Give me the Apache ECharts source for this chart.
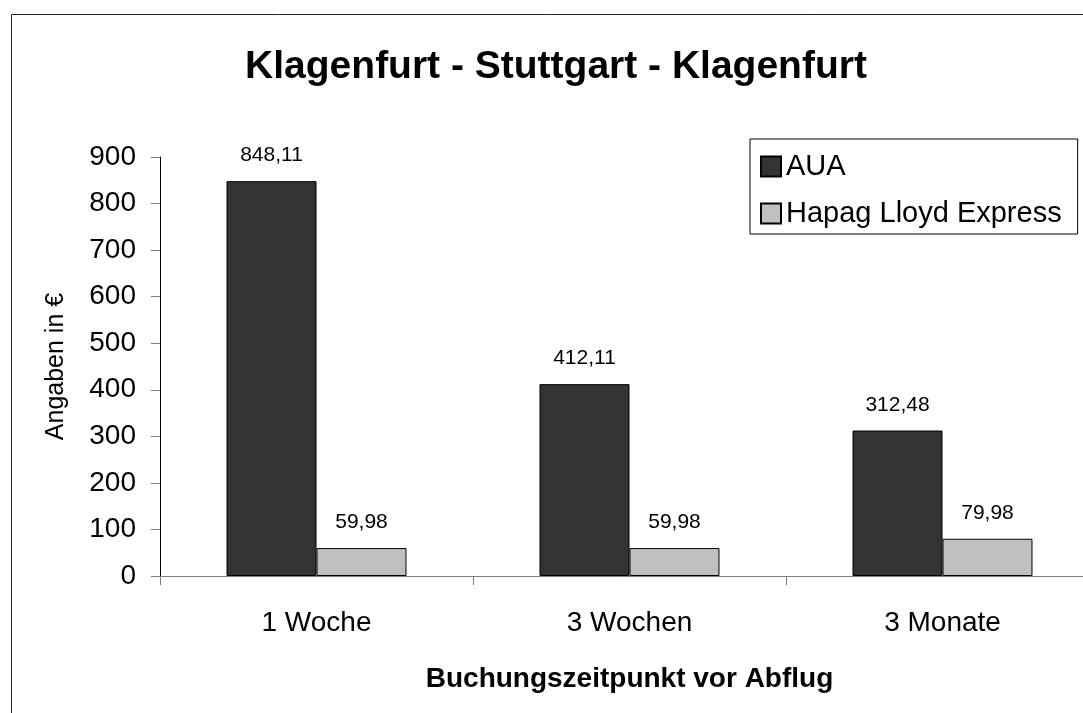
<!DOCTYPE html>
<html>
<head>
<meta charset="utf-8">
<script src="https://cdn.jsdelivr.net/npm/echarts@6/dist/echarts.min.js"></script>
<style>
html,body{margin:0;padding:0;background:#fff;}
#chart{width:1083px;height:713px;}
</style>
</head>
<body>
<div id="chart"></div>
<script>
const categories = ['1 Woche', '3 Wochen', '3 Monate'];
const seriesNames = ['AUA', 'Hapag Lloyd Express'];
const auaValues = [848.11, 412.11, 312.48];
const hapagValues = [59.98, 59.98, 79.98];
const yTicks = [0, 900, 100];

const FONT = '"Liberation Sans", Arial, sans-serif';
const fmt = p => p.value.toFixed(2).replace('.', ',');

const chart = echarts.init(document.getElementById('chart'), null, {renderer: 'canvas'});
chart.setOption({
  backgroundColor: '#fff',
  animation: false,
  title: {
    text: 'Klagenfurt - Stuttgart - Klagenfurt',
    left: 556, top: 48, textAlign: 'center', padding: 0,
    textStyle: {fontFamily: FONT, fontSize: 39, fontWeight: 'bold', color: '#000'}
  },
  graphic: [{
    type: 'rect', shape: {x: 11.5, y: 14.5, width: 1200, height: 800},
    style: {fill: 'none', stroke: '#222', lineWidth: 1}, silent: true
  }],
  legend: {
    orient: 'vertical', left: 750, top: 139,
    backgroundColor: '#fff', borderColor: '#000', borderWidth: 1,
    padding: [13, 16, 6, 10],
    itemWidth: 20, itemHeight: 20, itemGap: 18, icon: 'rect',
    textStyle: {fontFamily: FONT, fontSize: 29, color: '#000', lineHeight: 28},
    data: seriesNames
  },
  grid: {left: 160, top: 157, right: -16, bottom: 137, outerBoundsMode: 'none', containLabel: false},
  xAxis: {
    type: 'category', data: categories,
    name: 'Buchungszeitpunkt vor Abflug', nameLocation: 'middle', nameGap: 89,
    nameTextStyle: {fontFamily: FONT, fontSize: 28, fontWeight: 'bold', color: '#000'},
    axisLine: {lineStyle: {color: '#808080', width: 1}},
    axisTick: {show: true, length: 9, lineStyle: {color: '#808080'}},
    axisLabel: {fontFamily: FONT, fontSize: 28, color: '#000', margin: 33}
  },
  yAxis: {
    type: 'value', min: yTicks[0], max: yTicks[1], interval: yTicks[2],
    name: 'Angaben in €', nameLocation: 'middle', nameGap: 91,
    nameTextStyle: {fontFamily: FONT, fontSize: 25, color: '#000'},
    axisLine: {show: true, lineStyle: {color: '#000', width: 1}},
    axisTick: {show: true, length: 9, lineStyle: {color: '#808080'}},
    splitLine: {show: false},
    axisLabel: {fontFamily: FONT, fontSize: 28, color: '#000', margin: 24}
  },
  series: [
    {
      name: seriesNames[0], type: 'bar', data: auaValues,
      barGap: '0%', barCategoryGap: '42.5%',
      itemStyle: {color: '#333333', borderColor: '#000', borderWidth: 1},
      label: {show: true, position: 'top', distance: 15, formatter: fmt,
        fontFamily: FONT, fontSize: 21, color: '#000'}
    },
    {
      name: seriesNames[1], type: 'bar', data: hapagValues,
      barGap: '0%', barCategoryGap: '42.5%',
      itemStyle: {color: '#C0C0C0', borderColor: '#000', borderWidth: 1},
      label: {show: true, position: 'top', distance: 15, formatter: fmt,
        fontFamily: FONT, fontSize: 21, color: '#000'}
    }
  ]
});
</script>
</body>
</html>
